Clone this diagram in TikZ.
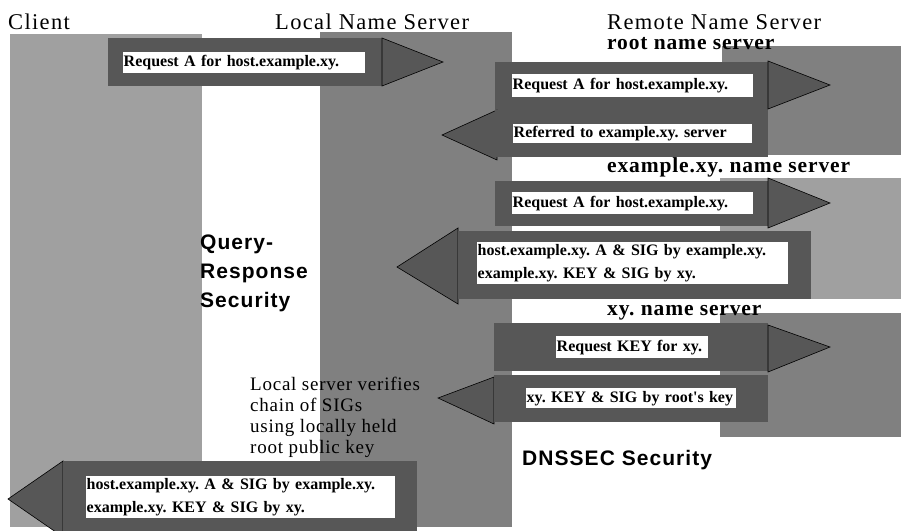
\documentclass[tikz,border=0pt]{standalone}
\usepackage{fontspec}
\setmainfont{Liberation Serif}
\newfontfamily\headfont{Liberation Serif}[LetterSpace=6]
\newfontfamily\srvfont{Liberation Serif}[LetterSpace=4]
\newfontfamily\notefont{Liberation Serif}[LetterSpace=4]
\newfontfamily\msgfont{Liberation Serif}
\newfontfamily\secfont{Liberation Sans}[LetterSpace=5]
\definecolor{colLight}{HTML}{A0A0A0}
\definecolor{colMid}{HTML}{808080}
\definecolor{colDark}{HTML}{575757}
\begin{document}
\begin{tikzpicture}[x=1pt,y=-1pt,
  bodyfill/.style={fill=colDark},
  headtri/.style={fill=colDark, draw=black, line width=0.6pt, line join=miter},
  msg/.style={fill=white, inner xsep=0.5pt, inner ysep=0pt, anchor=north west,
    align=left, font={\msgfont\bfseries\frenchspacing\fontsize{16}{23}\selectfont}},
  colhead/.style={anchor=base west, inner sep=0pt, font={\headfont\fontsize{22.5}{24}\selectfont}},
  srvhead/.style={anchor=base west, inner sep=0pt, font={\srvfont\bfseries\frenchspacing\fontsize{21.5}{24}\selectfont}},
  note/.style={anchor=base west, inner sep=0pt, font={\notefont\fontsize{19}{21}\selectfont}},
  sec/.style={anchor=base west, inner sep=0pt, font={\secfont\bfseries\fontsize{21}{24}\selectfont}}]
\useasboundingbox (0,0) rectangle (901,530);

% host columns
\fill[colLight] (10,34) rectangle (202,527);
\fill[colMid] (320,32) rectangle (512,527);

% remote servers: root, example.xy., xy.
\fill[colMid] (722,46) rectangle (901,155);
\fill[colLight] (720,178) rectangle (901,299);
\fill[colMid] (720,313) rectangle (901,437);

% column titles
\node[colhead] (tclient) at (8,29) {Client};
\node[colhead] (tlocal) at (275,29) {Local Name Server};
\node[colhead] (tremote) at (607,29) {Remote Name Server};

% server titles
\node[srvhead] (troot) at (607,49) {root name server};
\node[srvhead] (texample) at (607,172) {example.xy. name server};
\node[srvhead] (txy) at (607,315) {xy. name server};

% client -> local query
\fill[bodyfill] (108,38) rectangle (382,86);
\draw[headtri] (382,38) -- (443,62) -- (382,86) -- cycle;
\node[msg, minimum width=242pt, minimum height=21pt, text width=241pt] (q1) at (123,52)
  {Request A for host.example.xy.};

% local <-> root
\fill[bodyfill] (495,62) rectangle (768,110);
\draw[headtri] (768,61) -- (830,85) -- (768,109) -- cycle;
\draw[headtri] (497,110) -- (442,135) -- (497,160) -- cycle;
\fill[bodyfill] (495,110) rectangle (768,157);
\node[msg, minimum width=241pt, minimum height=23pt, text width=240pt] (q2) at (512,74)
  {Request A for host.example.xy.};
\node[msg, minimum width=239pt, minimum height=19pt, text width=238pt] (r2) at (513,124)
  {Referred to example.xy. server};

% local <-> example.xy.
\fill[bodyfill] (495,181) rectangle (768,226);
\draw[headtri] (768,178) -- (830,203) -- (768,228) -- cycle;
\node[msg, minimum width=241pt, minimum height=22pt, text width=240pt] (q3) at (512,192)
  {Request A for host.example.xy.};
\draw[headtri] (458,228) -- (397,267) -- (458,304) -- cycle;
\fill[bodyfill] (458,231) rectangle (811,299);
\node[msg, minimum width=311pt, minimum height=42pt, text width=310pt] (r3) at (477,242)
  {host.example.xy. A \& SIG by example.xy.\\example.xy. KEY \& SIG by xy.};

% local <-> xy.
\fill[bodyfill] (494,323) rectangle (768,371);
\draw[headtri] (768,325) -- (830,347) -- (768,372) -- cycle;
\node[msg, minimum width=152pt, minimum height=22pt, text width=151pt] (q4) at (556,336)
  {Request KEY for xy.};
\draw[headtri] (494,377) -- (438,398) -- (494,424) -- cycle;
\fill[bodyfill] (494,375) rectangle (768,422);
\node[msg, minimum width=210pt, minimum height=20pt, text width=209pt] (r4) at (526,388)
  {\mbox{xy. KEY \& SIG by root's key}};

% local -> client answer
\begin{scope}
\clip (0,0) rectangle (901,530);
\draw[headtri] (63,461) -- (8,499) -- (63,537) -- cycle;
\fill[bodyfill] (63,461) rectangle (417,531);
\end{scope}
\node[msg, minimum width=309pt, minimum height=42pt, text width=308pt] (r1) at (86,476)
  {host.example.xy. A \& SIG by example.xy.\\example.xy. KEY \& SIG by xy.};

% security labels
\node[sec] (qr1) at (200,249) {Query-};
\node[sec] (qr2) at (200,278) {Response};
\node[sec] (qr3) at (200,307) {Security};
\node[sec] (dnssec) at (522,465) {DNSSEC Security};

% verification note
\node[note] (n1) at (250,390) {Local server verifies};
\node[note] (n2) at (250,411) {chain of SIGs};
\node[note] (n3) at (250,432) {using locally held};
\node[note] (n4) at (250,453) {root public key};
\end{tikzpicture}
\end{document}
